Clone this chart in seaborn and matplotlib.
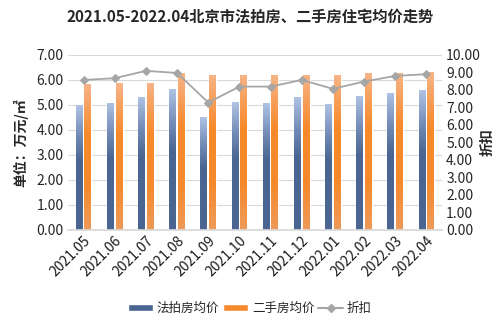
import matplotlib
matplotlib.use("Agg")
import matplotlib.pyplot as plt
import seaborn as sns
import pandas as pd
import numpy as np
from matplotlib.lines import Line2D
from matplotlib.patches import Patch
from matplotlib.colors import LinearSegmentedColormap

months = ["2021.05", "2021.06", "2021.07", "2021.08", "2021.09", "2021.10",
          "2021.11", "2021.12", "2022.01", "2022.02", "2022.03", "2022.04"]
auction_price = [5.00, 5.09, 5.33, 5.64, 4.51, 5.12, 5.07, 5.32, 5.04, 5.37, 5.49, 5.59]
resale_price = [5.83, 5.87, 5.89, 6.28, 6.21, 6.21, 6.21, 6.21, 6.21, 6.29, 6.29, 6.31]
discount = [8.57, 8.67, 9.09, 8.97, 7.28, 8.19, 8.19, 8.57, 8.06, 8.48, 8.80, 8.90]

sns.set_theme(style="white")
plt.rcParams['font.family'] = ['Noto Sans CJK SC', 'DejaVu Sans']

df = pd.DataFrame({
    "month": months * 2,
    "price": auction_price + resale_price,
    "type": ["法拍房均价"] * len(months) + ["二手房均价"] * len(months),
})

fig = plt.figure(figsize=(5, 3.27), dpi=100)
ax = fig.add_axes([0.136, 0.297, 0.748, 0.535])
blue = "#4a6591"
orange = "#f58a2c"
sns.barplot(data=df, x="month", y="price", hue="type", palette=[blue, orange],
            width=0.56, gap=0.2, ax=ax, legend=False, saturation=1)

ax.set_ylim(0, 7)
ax.set_xlim(-0.5, len(months) - 0.5)

# gradient fills
cm_blue = LinearSegmentedColormap.from_list(
    "b", [(0.0, "#4a6591"), (0.55, "#4a6591"), (0.75, "#7189b5"), (1.0, "#b0c3e4")])
cm_orange = LinearSegmentedColormap.from_list(
    "o", [(0.0, "#ee9a5a"), (0.3, "#f58a2c"), (0.65, "#f7892a"), (1.0, "#f7b487")])
grad = np.linspace(0, 1, 256).reshape(-1, 1)
n = len(months)
for i, patch in enumerate(list(ax.patches)):
    cmap = cm_blue if i < n else cm_orange
    x0, y0 = patch.get_x(), patch.get_y()
    w, h = patch.get_width(), patch.get_height()
    if h <= 0:
        continue
    im = ax.imshow(grad, extent=[x0, x0 + w, y0, y0 + h], origin="lower",
                   aspect="auto", cmap=cmap, zorder=patch.get_zorder())
    im.set_clip_path(patch)
    patch.set_facecolor("none")
ax.set_ylim(0, 7)
ax.set_xlim(-0.5, len(months) - 0.5)

ax.set_yticks(np.arange(0, 7.01, 1))
ax.set_yticklabels([f"{v:.2f}" for v in np.arange(0, 7.01, 1)], fontsize=10)
ax.yaxis.grid(True, color="#d9d9d9", linewidth=0.8)
ax.set_axisbelow(True)
for s in ["top", "right", "left"]:
    ax.spines[s].set_visible(False)
ax.spines["bottom"].set_color("#d9d9d9")
ax.set_xlabel("")
ax.set_ylabel("单位：万元/㎡", fontsize=10, fontweight="bold", labelpad=6)
ax.tick_params(axis="both", length=0, pad=3)
ax.set_xticks(range(len(months)))
ax.set_xticklabels(months, rotation=45, ha="right", rotation_mode="anchor",
                   fontsize=10, color="#1a1a1a")

ax2 = ax.twinx()
sns.lineplot(x=list(range(len(months))), y=discount, ax=ax2, color="#a6a6a6",
             marker="D", markersize=4, markeredgecolor="#a6a6a6", linewidth=1.3)
ax2.set_ylim(0, 10)
ax2.set_yticks(np.arange(0, 10.01, 1))
ax2.set_yticklabels([f"{v:.2f}" for v in np.arange(0, 10.01, 1)], fontsize=10)
for s in ["top", "right", "left", "bottom"]:
    ax2.spines[s].set_visible(False)
ax2.tick_params(axis="y", length=0, pad=3)
ax2.set_ylabel("折扣", fontsize=10, fontweight="bold", rotation=90, labelpad=0)

fig.suptitle("2021.05-2022.04北京市法拍房、二手房住宅均价走势", fontsize=11,
             fontweight="bold", y=0.975)

handles = [Patch(facecolor=blue, label="法拍房均价"),
           Patch(facecolor=orange, label="二手房均价"),
           Line2D([0], [0], color="#a6a6a6", marker="D", markersize=4, label="折扣")]
fig.legend(handles=handles, loc="center", bbox_to_anchor=(0.5, 0.058), ncol=3,
           frameon=False, fontsize=9, handlelength=2.0, handleheight=0.5,
           columnspacing=0.3, handletextpad=0.3)

fig.savefig("out.png", dpi=100)
